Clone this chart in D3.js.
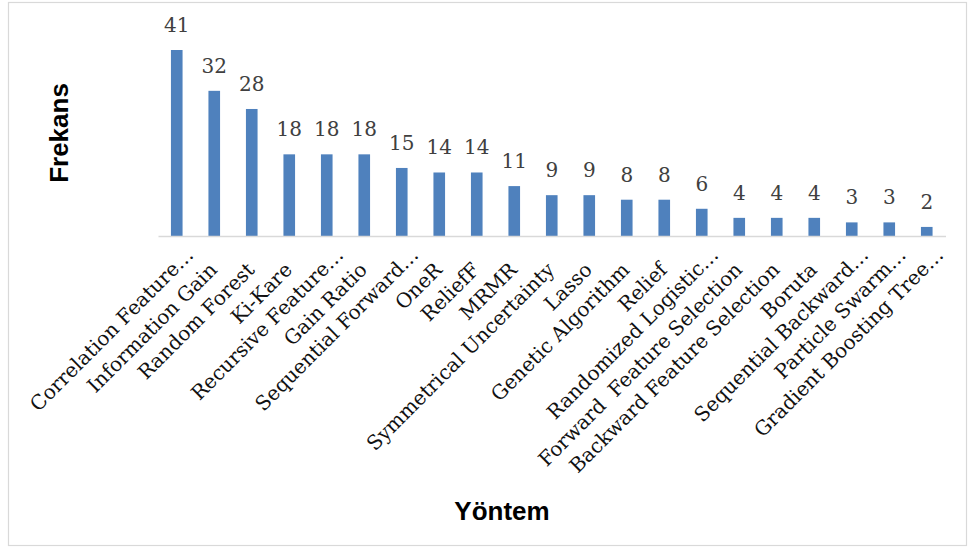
<!DOCTYPE html>
<html><head><meta charset="utf-8">
<script src="https://cdn.jsdelivr.net/npm/d3@7"></script>
<style>
html,body{margin:0;padding:0;background:#fff;}
svg{display:block;}
</style></head>
<body>
<svg id="chart" width="968" height="547"></svg>
<script>
const categories = [
  "Correlation Feature…", "Information Gain", "Random Forest", "Ki-Kare",
  "Recursive Feature…", "Gain Ratio", "Sequential Forward…", "OneR", "ReliefF",
  "MRMR", "Symmetrical Uncertainty", "Lasso", "Genetic Algorithm", "Relief",
  "Randomized Logistic…", "Forward  Feature Selection", "Backward Feature Selection",
  "Boruta", "Sequential Backward…", "Particle Swarm…", "Gradient Boosting Tree…"
];
const values = [41, 32, 28, 18, 18, 18, 15, 14, 14, 11, 9, 9, 8, 8, 6, 4, 4, 4, 3, 3, 2];
const xTitle = "Yöntem";
const yTitle = "Frekans";

const svg = d3.select("#chart");
const plot = {left: 158, right: 945.5, base: 236, top: 50};

svg.append("rect").attr("x", 8.5).attr("y", 2.5).attr("width", 958).attr("height", 543)
  .attr("fill", "#fff").attr("stroke", "#d9d9d9").attr("stroke-width", 1.2);

const x = d3.scaleBand().domain(categories).range([plot.left, plot.right]).paddingInner(0).paddingOuter(0);
const y = d3.scaleLinear().domain([0, d3.max(values)]).range([plot.base, plot.top]);
const barW = x.bandwidth() * 0.31;

const data = categories.map((c, i) => ({c, v: values[i]}));

svg.append("g").selectAll("rect").data(data).join("rect")
  .attr("x", d => x(d.c) + x.bandwidth() / 2 - barW / 2)
  .attr("y", d => y(d.v))
  .attr("width", barW)
  .attr("height", d => y(0) - y(d.v))
  .attr("fill", "#4f81bd");

const axis = d3.axisBottom(x).tickSize(0).tickFormat("");
const gx = svg.append("g").attr("transform", `translate(0,${plot.base})`).call(axis);
gx.select(".domain").attr("stroke", "#d9d9d9").attr("stroke-width", 1.5);

svg.append("g").selectAll("text").data(data).join("text")
  .attr("x", d => x(d.c) + x.bandwidth() / 2)
  .attr("y", d => y(d.v) - 18)
  .attr("text-anchor", "middle")
  .attr("font-family", "'DejaVu Serif', serif")
  .attr("font-size", 20)
  .attr("fill", "#404040")
  .text(d => d.v);

svg.append("g").selectAll("text").data(data).join("text")
  .attr("transform", d => {
    const cx = x(d.c) + x.bandwidth() / 2;
    const trunc = d.c.endsWith("…");
    const dx = trunc ? 18 : 4;
    const dy = trunc ? 20 : 35;
    return `translate(${cx + dx},${plot.base + dy}) rotate(-45)`;
  })
  .attr("text-anchor", "end")
  .attr("font-family", "'DejaVu Serif', serif")
  .attr("font-size", 20)
  .attr("fill", "#111")
  .style("white-space", "pre")
  .text(d => d.c);

svg.append("text")
  .attr("transform", "translate(68,133) rotate(-90)")
  .attr("text-anchor", "middle")
  .attr("font-family", "'Liberation Sans', Arial, sans-serif")
  .attr("font-weight", "bold")
  .attr("font-size", 26)
  .attr("fill", "#000")
  .text(yTitle);

svg.append("text")
  .attr("x", 502).attr("y", 520)
  .attr("text-anchor", "middle")
  .attr("font-family", "'Liberation Sans', Arial, sans-serif")
  .attr("font-weight", "bold")
  .attr("font-size", 26)
  .attr("fill", "#000")
  .text(xTitle);
</script>
</body></html>
